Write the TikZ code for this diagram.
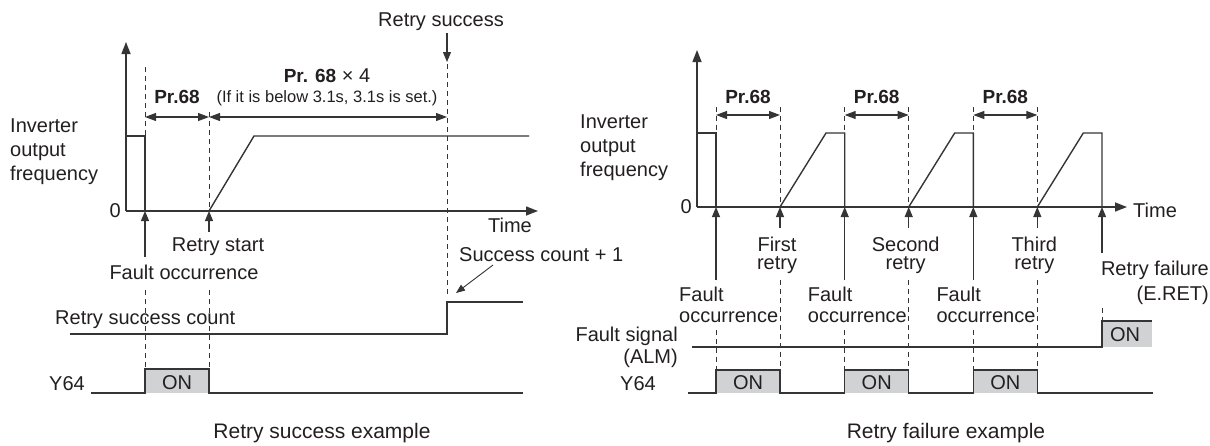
\documentclass[tikz,border=0pt]{standalone}
\usepackage{fontspec}
\setmainfont{Liberation Sans}
\usetikzlibrary{arrows.meta, positioning, calc}
\definecolor{linegray}{HTML}{353535}
\definecolor{textgray}{HTML}{231F20}
\definecolor{onfill}{HTML}{D1D2D4}
\tikzset{
	sigline/.style={draw=linegray, line width=1.4pt},
	axisline/.style={draw=linegray, line width=1.4pt, -{Triangle[length=12pt,width=9pt]}},
	guide/.style={draw=linegray, line width=0.9pt, dash pattern=on 5pt off 4pt},
	tiparrow/.style={draw=linegray, line width=1.1pt, -{Triangle[length=10pt,width=8pt]}},
	thinarrow/.style={draw=linegray, line width=0.9pt, -{Triangle[length=9pt,width=7pt]}},
	dimarrow/.style={draw=linegray, line width=1.1pt, {Triangle[length=11pt,width=8pt]}-{Triangle[length=11pt,width=8pt]}},
	lbl/.style={font=\fontsize{20}{24}\selectfont, text=textgray, inner sep=0pt},
	boldlbl/.style={font=\bfseries\fontsize{19}{22}\selectfont, text=textgray, inner sep=0pt},
	smalllbl/.style={font=\fontsize{16.5}{19}\selectfont, text=textgray, inner sep=0pt},
	caption/.style={font=\fontsize{21}{25}\selectfont, text=textgray, inner sep=0pt}
}

\begin{document}
\begin{tikzpicture}[x=1pt, y=-1pt]
  \useasboundingbox (0,0) rectangle (1210,445);

  % ---- retry success example ----
  \fill[onfill] (145,369) rectangle (209,393);
  \draw[guide] (145,67) -- (145,211);
  \draw[guide] (209,112) -- (209,211);
  \draw[guide] (447,64) -- (447,296);
  \draw[guide] (145,290) -- (145,369);
  \draw[guide] (209,290) -- (209,369);
  \draw[axisline] (126,211) -- (126,42);
  \draw[axisline] (126,211) -- (538,211);
  \node[lbl, anchor=east] (zeroL) at (121,211) {0};
  \node[lbl, align=left, anchor=west] (invL) at (10,152) {Inverter\\output\\frequency};
  \node[lbl] (timeL) at (510,225) {Time};
  \draw[sigline] (126,136) -- (145,136) -- (145,211);
  \draw[sigline] (209,211) -- (254,136) -- (529,136);
  \draw[dimarrow] (145,117) -- (209,117);
  \draw[dimarrow] (209,117) -- (447,117);
  \node[boldlbl] (prL) at (177,97) {Pr.68};
  \node[lbl] (prfourL) at (327,76) {\textbf{\fontsize{19}{22}\selectfont Pr. 68} × 4};
  \node[smalllbl] (noteL) at (327,98) {(If it is below 3.1s, 3.1s is set.)};
  \node[lbl] (successL) at (441,22) {Retry success};
  \draw[tiparrow] (447,33) -- (447,62);
  \draw[tiparrow] (145,257) -- (145,211);
  \draw[tiparrow] (209,232) -- (209,211);
  \node[lbl] (startL) at (218,247) {Retry start};
  \node[lbl] (faultL) at (184,272) {Fault occurrence};
  \node[lbl, anchor=west] (countL) at (55,320) {Retry success count};
  \draw[sigline] (70,334) -- (447,334) -- (447,302) -- (523,302);
  \node[lbl, anchor=west] (plusL) at (459,255) {Success count + 1};
  \draw[thinarrow] (493,265) -- (456,293);
  \draw[sigline] (91,393) -- (145,393) -- (145,369) -- (209,369) -- (209,393) -- (523,393);
  \node[lbl] (onL) at (177,383) {ON};
  \node[lbl, anchor=east] (yL) at (85,384) {Y64};
  \node[caption] (capL) at (322,433) {Retry success example};

  % ---- retry failure example ----
  \fill[onfill] (1102,321) rectangle (1152,347);
  \foreach \f/\n [count=\i] in {716/First, 844.7/Second, 973.3/Third} {
    \fill[onfill] (\f,370) rectangle (\f+64,393);
    \draw[guide] (\f,107) -- (\f,133);
    \draw[guide] (\f+64,107) -- (\f+64,207);
    \draw[guide] (\f,330) -- (\f,370);
    \draw[guide] (\f+64,280) -- (\f+64,370);
    \draw[sigline] (\f+64,207) -- (\f+110,133) -- (\f+128.7,133) -- (\f+128.7,207);
    \draw[dimarrow] (\f,115) -- (\f+64,115);
    \node[boldlbl] (pr\i) at (\f+32,97) {Pr.68};
    \draw[tiparrow] (\f,280) -- (\f,207);
    \draw[tiparrow] (\f+64,228) -- (\f+64,207);
    \node[lbl, align=center, font=\fontsize{20}{18}\selectfont] (rt\i) at (\f+61,255) {\n\\retry};
    \node[lbl, align=left, anchor=west, font=\fontsize{20}{21}\selectfont] (fo\i) at (\f-37,305) {Fault\\occurrence};
    \node[lbl] (on\i) at (\f+32,383) {ON};
  }
  \draw[guide] (1102,308) -- (1102,321);
  \draw[axisline] (697,207) -- (697,50);
  \draw[axisline] (697,207) -- (1127,207);
  \node[lbl, anchor=east] (zeroR) at (692,207) {0};
  \node[lbl, align=left, anchor=west] (invR) at (580,148) {Inverter\\output\\frequency};
  \node[lbl, anchor=west] (timeR) at (1133,210) {Time};
  \draw[sigline] (697,133) -- (716,133) -- (716,207);
  \draw[tiparrow] (1102,253) -- (1102,207);
  \node[lbl, align=right, anchor=east, font=\fontsize{20}{25}\selectfont] (failR) at (1209,283) {Retry failure\\(E.RET)};
  \draw[sigline] (692,347) -- (1102,347) -- (1102,321) -- (1152,321);
  \node[lbl] (onR) at (1125,335) {ON};
  \node[lbl, align=right, anchor=east, font=\fontsize{20}{22}\selectfont] (almR) at (678,347) {Fault signal\\(ALM)};
  \node[lbl, anchor=east] (yR) at (656,384) {Y64};
  \draw[sigline] (688,393) -- (716,393) -- (716,370) -- (780,370) -- (780,393)
    -- (844.7,393) -- (844.7,370) -- (908.7,370) -- (908.7,393)
    -- (973.3,393) -- (973.3,370) -- (1037.3,370) -- (1037.3,393) -- (1153,393);
  \node[caption] (capR) at (946,433) {Retry failure example};
\end{tikzpicture}
\end{document}
